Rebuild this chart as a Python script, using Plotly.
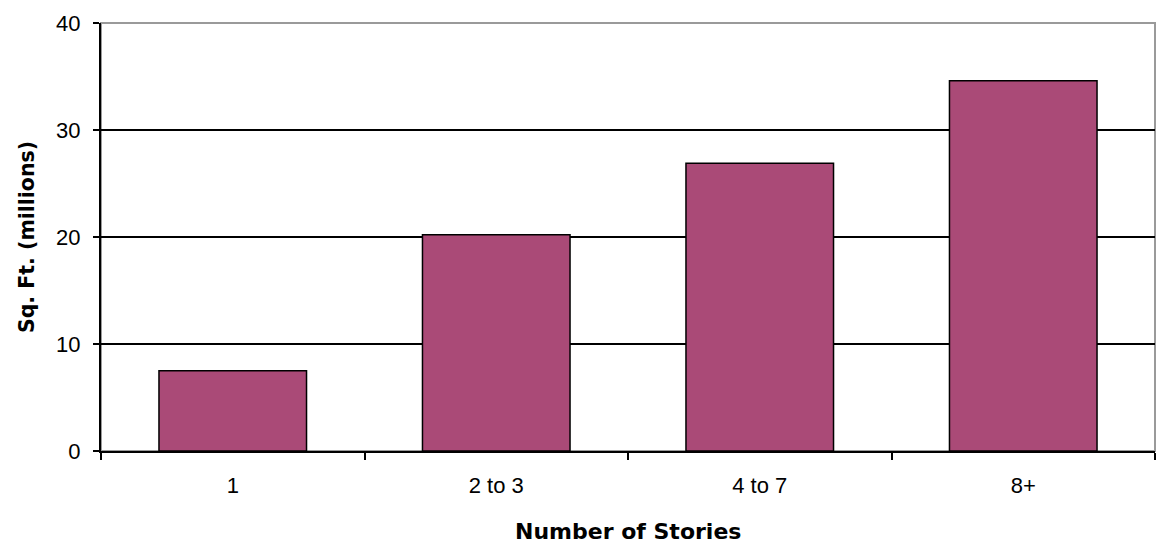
import plotly.graph_objects as go

categories = ["1", "2 to 3", "4 to 7", "8+"]
values = [7.5, 20.2, 26.9, 34.6]
y_ticks = [0, 10, 20, 30, 40]

fig = go.Figure()
fig.add_trace(go.Bar(
    x=categories, y=values,
    marker=dict(color="#AA4A77", line=dict(color="black", width=1.5)),
))

tick_font = dict(family="Liberation Sans, Arial, sans-serif", size=22, color="black")
title_font_x = dict(family="DejaVu Sans, Verdana, sans-serif", size=22, color="black")
title_font_y = dict(family="DejaVu Sans, Verdana, sans-serif", size=20.5, color="black")

fig.update_layout(
    width=1164, height=544,
    margin=dict(l=101, r=9, t=23, b=93),
    plot_bgcolor="white", paper_bgcolor="white",
    bargap=0.44,
    showlegend=False,
    font=dict(family="Liberation Sans, Arial, sans-serif", size=22, color="black"),
    shapes=[
        dict(type="rect", xref="paper", yref="paper", x0=0, x1=1, y0=0, y1=1,
             line=dict(color="#9a9a9a", width=2), layer="below"),
    ],
    annotations=[
        dict(text="<b>Number of Stories</b>", xref="paper", yref="paper",
             x=0.5, y=-80 / 428, xanchor="center", yanchor="middle",
             showarrow=False, font=title_font_x),
    ],
)
fig.update_xaxes(
    type="category",
    tickson="boundaries",
    ticks="outside", ticklen=7, tickcolor="black", tickwidth=1.5,
    showline=True, linecolor="black", linewidth=2,
    showgrid=False,
    tickfont=tick_font,
    ticklabelstandoff=14,
    automargin=False,
)
fig.update_yaxes(
    range=[0, 40], tickvals=y_ticks,
    ticks="outside", ticklen=6, tickcolor="black", tickwidth=1.5,
    showline=True, linecolor="black", linewidth=2,
    showgrid=True, gridcolor="black", gridwidth=1.5,
    zeroline=False,
    tickfont=tick_font,
    ticklabelstandoff=8,
    title=dict(text="<b>Sq. Ft. (millions)</b>", standoff=16, font=title_font_y),
)

fig.write_html("out.html")
